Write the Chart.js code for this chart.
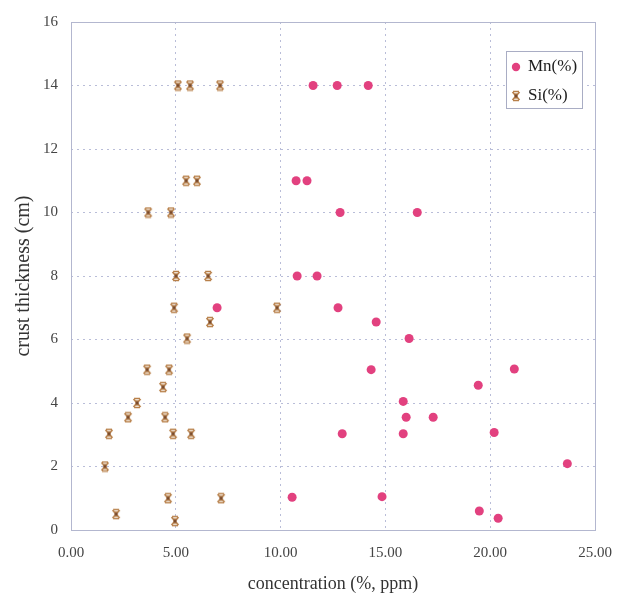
<!DOCTYPE html>
<html>
<head>
<meta charset="utf-8">
<script src="https://cdn.jsdelivr.net/npm/chart.js@4.4.1/dist/chart.umd.min.js"></script>
<style>
  body { margin: 0; background: #fff; }
  #wrap { width: 630px; height: 603px; }
</style>
</head>
<body>
<div id="wrap"><canvas id="crustChart" width="630" height="603"></canvas></div>
<script>
// values
const seriesNames = ['Mn(%)', 'Si(%)'];
const mnX = [11.55, 12.7, 14.18, 10.74, 11.26, 12.84, 16.52, 10.79, 11.74, 6.97, 12.74, 14.56, 16.13,
  14.32, 21.15, 19.43, 15.85, 15.99, 17.28, 12.94, 15.85, 20.19, 23.68, 10.55, 14.84, 19.48, 20.38];
const mnY = [14, 14, 14, 11, 11, 10, 10, 8, 8, 7, 7, 6.55, 6.03,
  5.05, 5.07, 4.56, 4.05, 3.55, 3.55, 3.03, 3.03, 3.07, 2.09, 1.03, 1.05, 0.6, 0.37];
const siX = [5.1, 5.68, 7.11, 5.49, 6.01, 3.68, 4.77, 5.01, 6.54, 4.92, 9.83, 6.63, 5.54,
  3.63, 4.68, 4.39, 3.15, 2.72, 4.49, 1.81, 4.87, 5.73, 1.62, 4.63, 7.16, 2.15, 4.96];
const siY = [14, 14, 14, 11, 11, 10, 10, 8, 8, 7, 7, 6.55, 6.03,
  5.05, 5.05, 4.5, 4.0, 3.55, 3.55, 3.03, 3.03, 3.03, 2.0, 1.0, 1.0, 0.5, 0.28];
const xTicks = [0, 5, 10, 15, 20, 25];
const yTicks = [0, 2, 4, 6, 8, 10, 12, 14, 16];

const mnColor = '#e2417f';
const siColor = '#b8804a';
const gridColor = '#b9bdd8';
const boxColor = '#b3b7cf';
const serif = "'Liberation Serif', 'DejaVu Serif', serif";

function toPoints(xs, ys) {
  return xs.map((x, i) => ({ x: x, y: ys[i] }));
}

// Si marker: an x with short bars top and bottom, dark middle
function makeSiMarker() {
  const c = document.createElement('canvas');
  c.width = 12; c.height = 12;
  const g = c.getContext('2d');
  g.strokeStyle = siColor;
  g.lineWidth = 1.8;
  g.beginPath();
  g.moveTo(2.5, 2); g.lineTo(9.5, 10);
  g.moveTo(9.5, 2); g.lineTo(2.5, 10);
  g.stroke();
  g.lineWidth = 1.3;
  g.beginPath();
  g.moveTo(3, 1.5); g.lineTo(9, 1.5);
  g.moveTo(3, 10.5); g.lineTo(9, 10.5);
  g.moveTo(6, 3); g.lineTo(6, 9);
  g.stroke();
  g.fillStyle = '#7a4a2a';
  g.fillRect(4.5, 4.5, 3, 3);
  return c;
}
const siMarker = makeSiMarker();

// frame round the plot and the legend inside it
const framePlugin = {
  id: 'frame',
  afterDraw(chart) {
    const { ctx, chartArea: a } = chart;
    ctx.save();
    ctx.strokeStyle = boxColor;
    ctx.lineWidth = 1;
    ctx.strokeRect(a.left + 0.5, a.top + 0.5, a.right - a.left, a.bottom - a.top);

    const bx = a.right - 89, by = a.top + 29, bw = 76, bh = 57;
    ctx.fillStyle = '#fff';
    ctx.fillRect(bx, by, bw, bh);
    ctx.strokeStyle = '#a9adc4';
    ctx.strokeRect(bx + 0.5, by + 0.5, bw, bh);

    ctx.fillStyle = mnColor;
    ctx.beginPath();
    ctx.arc(bx + 10, by + 16, 4.2, 0, Math.PI * 2);
    ctx.fill();
    ctx.drawImage(siMarker, bx + 4, by + 39, 12, 12);

    ctx.fillStyle = '#1e1e1e';
    ctx.font = '17px ' + serif;
    ctx.textBaseline = 'middle';
    ctx.fillText(seriesNames[0], bx + 22, by + 16);
    ctx.fillText(seriesNames[1], bx + 22, by + 45);
    ctx.restore();
  }
};

new Chart(document.getElementById('crustChart'), {
  type: 'scatter',
  data: {
    datasets: [
      {
        label: seriesNames[0],
        data: toPoints(mnX, mnY),
        pointStyle: 'circle',
        pointRadius: 4.5,
        pointHoverRadius: 4.5,
        backgroundColor: mnColor,
        borderColor: mnColor,
        borderWidth: 0
      },
      {
        label: seriesNames[1],
        data: toPoints(siX, siY),
        pointStyle: siMarker,
        pointRadius: 6,
        backgroundColor: siColor,
        borderColor: siColor
      }
    ]
  },
  options: {
    responsive: false,
    animation: false,
    layout: { padding: { top: 18, right: 35, left: 0, bottom: 0 } },
    plugins: {
      legend: { display: false },
      tooltip: { enabled: false }
    },
    scales: {
      x: {
        type: 'linear',
        min: 0,
        max: 25,
        afterBuildTicks: (scale) => { scale.ticks = xTicks.map(v => ({ value: v })); },
        afterFit: (scale) => { scale.height = 73; },
        ticks: {
          padding: 14,
          color: '#444',
          font: { family: serif, size: 15 },
          callback: (v) => Number(v).toFixed(2)
        },
        grid: {
          drawTicks: false,
          color: (c) => (c.tick && (c.tick.value === 0 || c.tick.value === 25)) ? 'rgba(0,0,0,0)' : gridColor
        },
        border: { display: false, dash: [2, 4] },
        title: {
          display: true,
          text: 'concentration (%, ppm)',
          color: '#333',
          font: { family: serif, size: 18 },
          padding: { top: 0, bottom: 8 }
        }
      },
      y: {
        type: 'linear',
        min: 0,
        max: 16,
        afterBuildTicks: (scale) => { scale.ticks = yTicks.map(v => ({ value: v })); },
        afterFit: (scale) => { scale.width = 71; },
        ticks: {
          padding: 13,
          color: '#444',
          font: { family: serif, size: 15 }
        },
        grid: {
          drawTicks: false,
          color: (c) => (c.tick && (c.tick.value === 0 || c.tick.value === 16)) ? 'rgba(0,0,0,0)' : gridColor
        },
        border: { display: false, dash: [2, 4] },
        title: {
          display: true,
          text: 'crust thickness (cm)',
          color: '#333',
          font: { family: serif, size: 20 },
          padding: { top: 12, bottom: 0 }
        }
      }
    }
  },
  plugins: [framePlugin]
});
</script>
</body>
</html>
